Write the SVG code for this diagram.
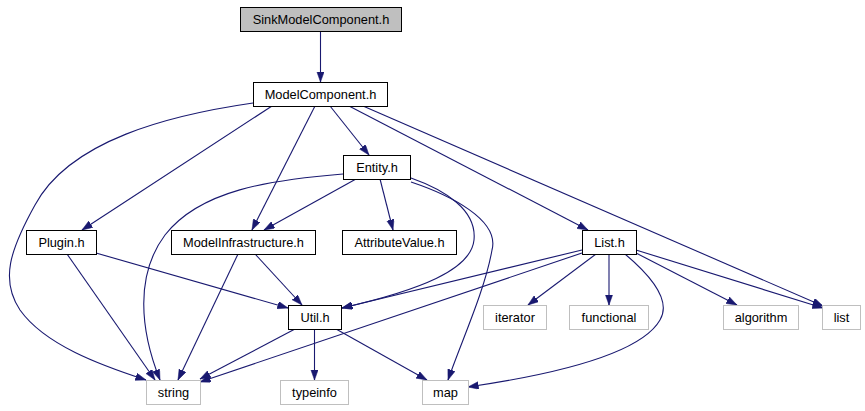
<svg xmlns="http://www.w3.org/2000/svg" width="865" height="411" viewBox="0 0 865 411">
<style>
.n rect{fill:#fff;stroke:#000;stroke-width:1}
.s rect{fill:#fff;stroke:#bfbfbf;stroke-width:1}
.g rect{fill:#bfbfbf;stroke:#000;stroke-width:1}
text{font-family:"Liberation Sans",Arial,sans-serif;font-size:12.8px;fill:#000;text-anchor:middle}
.e path{fill:none;stroke:#191970;stroke-width:1.1;marker-end:url(#a)}
</style>
<defs>
<marker id="a" markerUnits="userSpaceOnUse" markerWidth="11" markerHeight="8" refX="10.5" refY="3.75" orient="auto">
<path d="M0,0 L10.5,3.75 L0,7.5 z" fill="#191970" stroke="#191970" stroke-width="0.5"/>
</marker>
</defs>
<g class="e" id="edges">
<path d="M320.5,31 L320.5,82"/>
<path d="M253,103 C170,115 70,140 35,205 C10,250 0,280 20,310 C45,345 100,365 146,380"/>
<path d="M272,106 L82,230"/>
<path d="M315,106 L252,230"/>
<path d="M330,106 L369,155"/>
<path d="M349,106 L588,230"/>
<path d="M363,106 L823,306"/>
<path d="M343,174 C270,180 200,190 165,235 C135,275 140,330 160,380"/>
<path d="M356,179 L264,230"/>
<path d="M380,179 L393,230"/>
<path d="M411,178 C445,190 477,210 474,240 C471,270 420,290 342,308"/>
<path d="M411,182 C450,195 500,220 492,250 C485,290 462,340 448,380"/>
<path d="M67,254 L155,380"/>
<path d="M96,253 L288,308"/>
<path d="M238,254 L178,380"/>
<path d="M255,254 L302,305"/>
<path d="M582,250 L342,308"/>
<path d="M582,253 L200,382"/>
<path d="M295,329 L200,379"/>
<path d="M314.5,329 L314.5,380"/>
<path d="M336,329 L427,380"/>
<path d="M596,254 L528,305"/>
<path d="M609,254 L609,305"/>
<path d="M625,254 C650,275 672,300 660,320 C640,355 550,375 468,387"/>
<path d="M636,253 L737,305"/>
<path d="M636,250 L823,308"/>
</g>
<g id="SinkModelComponent" class="g"><rect x="240.5" y="7.5" width="161" height="24"/><text x="321" y="24">SinkModelComponent.h</text></g>
<g id="ModelComponent" class="n"><rect x="253.5" y="82.5" width="134" height="24"/><text x="320.5" y="99">ModelComponent.h</text></g>
<g id="Entity" class="n"><rect x="343.5" y="155.5" width="67" height="24"/><text x="377" y="172">Entity.h</text></g>
<g id="Plugin" class="n"><rect x="26.5" y="230.5" width="70" height="24"/><text x="61.5" y="247">Plugin.h</text></g>
<g id="ModelInfrastructure" class="n"><rect x="171.5" y="230.5" width="144" height="24"/><text x="243.5" y="247">ModelInfrastructure.h</text></g>
<g id="AttributeValue" class="n"><rect x="342.5" y="230.5" width="114" height="24"/><text x="399.5" y="247">AttributeValue.h</text></g>
<g id="List" class="n"><rect x="582.5" y="230.5" width="54" height="24"/><text x="609.5" y="247">List.h</text></g>
<g id="Util" class="n"><rect x="288.5" y="305.5" width="53" height="24"/><text x="315" y="322">Util.h</text></g>
<g id="iterator" class="s"><rect x="483.5" y="305.5" width="63" height="24"/><text x="515" y="322">iterator</text></g>
<g id="functional" class="s"><rect x="569.5" y="305.5" width="79" height="24"/><text x="609" y="322">functional</text></g>
<g id="algorithm" class="s"><rect x="723.5" y="305.5" width="75" height="24"/><text x="761" y="322">algorithm</text></g>
<g id="list" class="s"><rect x="822.5" y="305.5" width="38" height="24"/><text x="841.5" y="322">list</text></g>
<g id="string" class="s"><rect x="146.5" y="380.5" width="54" height="24"/><text x="173.5" y="397">string</text></g>
<g id="typeinfo" class="s"><rect x="280.5" y="380.5" width="68" height="24"/><text x="314.5" y="397">typeinfo</text></g>
<g id="map" class="s"><rect x="422.5" y="380.5" width="46" height="24"/><text x="445.5" y="397">map</text></g>
</svg>
